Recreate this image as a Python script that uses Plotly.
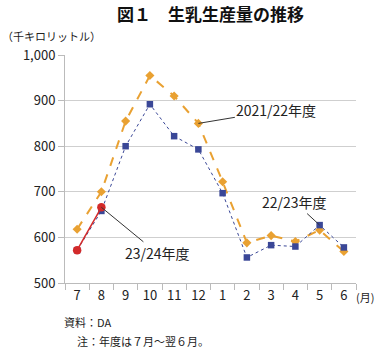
import plotly.graph_objects as go

months = ["7", "8", "9", "10", "11", "12", "1", "2", "3", "4", "5", "6"]
fy2021 = [618, 700, 855, 955, 910, 850, 722, 588, 604, 591, 616, 569]
fy2022 = [572, 658, 800, 892, 822, 793, 697, 556, 583, 580, 627, 578]
fy2023 = [572, 666]
y_ticks = [500, 600, 700, 800, 900, 1000]
y_labels = ["500", "600", "700", "800", "900", "1,000"]

JP = "Noto Sans CJK JP"
ORANGE = "#E9A132"
NAVY = "#3A4797"
RED = "#D32A2A"

fig = go.Figure()
fig.add_trace(go.Scatter(x=months, y=fy2021, mode="lines+markers",
                         line=dict(color=ORANGE, width=2, dash="dash"),
                         marker=dict(symbol="diamond", size=7, color=ORANGE)))
fig.add_trace(go.Scatter(x=months, y=fy2022, mode="lines+markers",
                         line=dict(color=NAVY, width=1, dash="dot"),
                         marker=dict(symbol="square", size=6.5, color=NAVY)))
fig.add_trace(go.Scatter(x=months[:len(fy2023)], y=fy2023, mode="lines+markers",
                         line=dict(color=RED, width=1.5),
                         marker=dict(symbol="circle", size=8.5, color=RED)))

ann_font = dict(family=JP, size=14, color="#222")
i12 = months.index("12")
i5 = months.index("5")
i8 = months.index("8")
fig.add_annotation(x=i12, y=fy2021[i12], text="2021/22年度", showarrow=True,
                   arrowhead=0, arrowwidth=1, arrowcolor="#333",
                   ax=78, ay=-13, font=ann_font)
fig.add_annotation(x=i5, y=fy2022[i5], text="22/23年度", showarrow=True,
                   arrowhead=0, arrowwidth=1, arrowcolor="#333",
                   ax=-25, ay=-23, font=ann_font)
fig.add_annotation(x=i8, y=fy2023[i8], text="23/24年度", showarrow=True,
                   arrowhead=0, arrowwidth=1, arrowcolor="#333",
                   ax=56, ay=46, font=ann_font)

fig.add_annotation(xref="paper", yref="paper", x=0.5, y=1, yshift=42,
                   xanchor="center", yanchor="middle", showarrow=False,
                   text="<b>図１　生乳生産量の推移</b>",
                   font=dict(family=JP, size=17, color="#111"))
fig.add_annotation(xref="paper", yref="paper", x=-65/291, y=1, yshift=19,
                   xanchor="left", yanchor="middle", showarrow=False,
                   text="（千キロリットル）", font=dict(family=JP, size=11, color="#222"))
fig.add_annotation(xref="paper", yref="paper", x=1, y=0, yshift=-14, xshift=-2,
                   xanchor="left", yanchor="middle", showarrow=False,
                   text="(月)", font=dict(family=JP, size=11, color="#222"))
fig.add_annotation(xref="paper", yref="paper", x=0, y=0, yshift=-39, xshift=-3,
                   xanchor="left", yanchor="middle", showarrow=False,
                   text="資料：DA", font=dict(family=JP, size=11, color="#222"))
fig.add_annotation(xref="paper", yref="paper", x=0, y=0, yshift=-58, xshift=10,
                   xanchor="left", yanchor="middle", showarrow=False,
                   text="注：年度は７月～翌６月。", font=dict(family=JP, size=11, color="#222"))

fig.update_layout(
    width=380, height=348,
    margin=dict(l=65, r=24, t=55, b=65),
    paper_bgcolor="white", plot_bgcolor="white",
    showlegend=False,
    font=dict(family=JP, size=12, color="#222"),
    xaxis=dict(type="category", categoryorder="array", categoryarray=months,
               range=[-0.5, 11.5], showgrid=False, showline=True,
               linecolor="#bbb", linewidth=1, ticks="outside", tickson="boundaries",
               ticklen=6, tickcolor="#bbb", tickfont=dict(family=JP, size=13)),
    yaxis=dict(range=[500, 1000], tickvals=y_ticks, ticktext=y_labels,
               showgrid=True, gridcolor="#cfcfcf", gridwidth=1,
               showline=True, linecolor="#bbb", ticks="outside", ticklen=6,
               tickcolor="#bbb", zeroline=False, tickfont=dict(family=JP, size=13)),
)

fig.write_html("out.html")
